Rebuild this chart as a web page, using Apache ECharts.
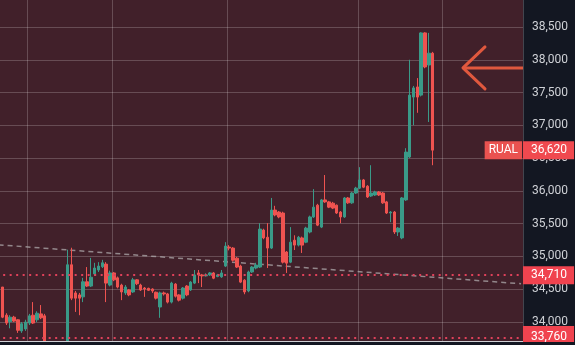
<!DOCTYPE html>
<html><head><meta charset="utf-8">
<script src="https://cdn.jsdelivr.net/npm/echarts@6/dist/echarts.min.js"></script>
<style>html,body{margin:0;padding:0;background:#131722;overflow:hidden}#c{width:575px;height:345px}</style>
</head><body><div id="c"></div>
<script>
// ---- data ----
const categoryCount = 137;
const categories = Array.from({length: categoryCount}, (_, i) => 'd' + i);
const openValues = [34990,34530,34100,34000,34070,34030,33860,33890,33980,34100,34030,34120,34090,null,null,null,null,null,
33700,34870,34440,34410,34380,34610,34545,34730,34790,34840,34880,34560,34745,34670,34560,34440,34485,34455,34640,34560,
34515,34510,34500,34450,34225,34440,34425,34300,34575,34410,34360,34545,34485,34590,34745,34715,34700,34715,34745,34690,
34685,34850,35140,35125,34970,34850,34635,34470,34760,34820,34835,35400,35290,35125,35705,35675,35660,35065,34910,35245,
35170,35280,35215,35370,35600,35780,35445,35860,35830,35810,35780,35675,35600,35890,35815,35965,36040,36165,36070,35920,
35935,35980,35965,35830,35660,35675,35370,35280,35860,36515,37430,37585,37460,38410,37920,38100];
const closeValues = [34530,34070,33980,34070,34010,33870,33970,33995,34090,33980,34130,34060,33700,null,null,null,null,null,
34870,34360,34360,34360,34610,34545,34680,34820,34850,34900,34590,34745,34640,34530,34455,34530,34410,34640,34580,34485,
34500,34480,34470,34360,34440,34425,34300,34590,34390,34330,34515,34410,34605,34715,34715,34700,34715,34745,34665,34715,
34745,35155,35125,34940,34835,34605,34455,34760,34835,34865,35415,35280,35125,35705,35630,35600,34910,34895,35215,35170,
35290,35170,35430,35600,35750,35475,35860,35830,35750,35735,35660,35600,35890,35815,35965,36040,36165,36055,35905,35965,
35980,35935,35815,35660,35675,35370,35430,35890,36590,37460,37570,37430,38410,37890,38100,36620];
const lowValues = [34515,34055,33950,33900,33995,33830,33830,33860,33950,33965,33995,34040,33675,null,null,null,null,null,
33680,34330,34150,34100,34300,34530,34530,34700,34760,34820,34300,34540,34620,34510,34330,34410,34390,34440,34560,34470,
34380,34470,34440,34340,34060,34400,34280,34280,34370,34310,34340,34390,34470,34575,34590,34530,34690,34700,34650,34680,
34670,34835,35090,34920,34820,34590,34420,34450,34745,34800,34820,35260,34820,35110,35610,35580,34890,34745,34895,35095,
35150,35050,35200,35350,35585,35460,35430,35815,35735,35720,35645,35505,35585,35800,35800,35950,36025,36040,35890,35905,
35920,35920,35800,35645,35520,35340,35310,35260,35845,36500,37000,37190,37440,37870,37050,36390];
const highValues = [35020,34530,34130,34100,34090,34040,33995,34030,34120,34300,34160,34255,34120,null,null,null,null,null,
35100,35130,34470,34440,34670,34835,34975,34900,34910,34945,34910,34780,34760,34690,34580,34560,34500,34670,34650,34580,
34530,34520,34510,34460,34460,34460,34440,34610,34590,34420,34530,34560,34620,34790,34790,34730,34740,34760,34760,34730,
34790,35215,35170,35140,34990,34870,34650,34780,34850,34900,35505,35420,35505,35890,35770,35690,35680,35080,35445,35320,
35310,35300,35450,35620,36025,35800,35875,36240,35845,35830,35790,35690,35905,35905,35980,36060,36360,36180,36085,36390,
36000,35995,35980,35845,35690,35690,35445,35905,36650,38000,37600,37720,38420,38420,38410,38120];
const tickerName = 'RUAL';
const lastPrice = 36620;
const levelLines = [34710, 33760];
const trendStart = 35175, trendEnd = 34580;
const arrowPrice = 37875;
const monthStartIndices = [8, 30, 60, 94, 116];
const yMin = 33500, yMax = 39000, yStep = 500;

// ---- styles ----
const UP = '#3a9a88', DOWN = '#ef5350';
const BG = '#41202a', PANEL = '#131722';
const FONT = 'Roboto, "Noto Sans", sans-serif';
const fmt = v => String(v).replace(/\B(?=(\d{3})+(?!\d))/g, ',');

const candleData = openValues.map((o, i) => o == null ? ['-', '-', '-', '-'] : [o, closeValues[i], lowValues[i], highValues[i]]);
const trendData = categories.map((_, i) => i === 0 ? trendStart : (i === categoryCount - 1 ? trendEnd : null));

const boxLabel = (txt, bg, pad) => ({
  show: true, position: 'end', distance: 0, formatter: txt,
  color: '#ffffff', fontFamily: FONT, fontSize: 12, lineHeight: 13,
  backgroundColor: bg, padding: pad || [3, 7, 2, 8], opacity: 1
});

const chart = echarts.init(document.getElementById('c'), null, {renderer: 'canvas'});
chart.setOption({
  animation: false,
  backgroundColor: PANEL,
  grid: {left: -3.33, right: 52, top: -5.75, bottom: -9.5, show: true, backgroundColor: BG, borderWidth: 0,
         containLabel: false, outerBoundsMode: 'none'},
  xAxis: {
    type: 'category', data: categories, boundaryGap: true,
    axisLine: {show: false}, axisTick: {show: false}, axisLabel: {show: false},
    splitLine: {show: true, interval: (idx) => monthStartIndices.includes(idx),
      lineStyle: {color: 'rgba(255,255,255,0.2)', width: 1}}
  },
  yAxis: {
    type: 'value', position: 'right', min: yMin, max: yMax, interval: yStep,
    axisLine: {show: false}, axisTick: {show: false},
    axisLabel: {color: '#cfd1d6', fontFamily: FONT, fontSize: 12, margin: 9, formatter: fmt},
    splitLine: {show: true, lineStyle: {color: 'rgba(255,255,255,0.2)', width: 1}}
  },
  series: [
    {
      type: 'line', data: trendData, connectNulls: true, symbol: 'none', silent: true, z: 1,
      lineStyle: {color: 'rgba(175,170,172,0.75)', width: 1.5, type: [5, 4]}
    },
    {
      type: 'candlestick', data: candleData, barWidth: 3, z: 3,
      itemStyle: {color: UP, color0: DOWN, borderColor: UP, borderColor0: DOWN, borderWidth: 1},
      markLine: {
        silent: true, symbol: 'none', animation: false,
        data: [
          {yAxis: levelLines[0], lineStyle: {color: '#e0415a', width: 2, type: [2, 4.5]}, label: boxLabel(fmt(levelLines[0]), '#f0434f')},
          {yAxis: levelLines[1], lineStyle: {color: '#e0415a', width: 2, type: [2, 4.5]}, label: boxLabel(fmt(levelLines[1]), '#f0434f', [0, 7, 10, 8])},
          {yAxis: lastPrice, lineStyle: {color: 'rgba(0,0,0,0)', width: 1}, label: boxLabel(fmt(lastPrice), '#f0494f')},
          {yAxis: lastPrice, lineStyle: {color: 'rgba(0,0,0,0)', width: 1}, label: Object.assign(boxLabel(tickerName, '#ea5250'), {position: 'insideEnd', distance: [1, 0], padding: [3, 4, 2, 4]})}
        ]
      }
    }
  ]
});

// annotation arrow and bottom time-axis strip
const ay = chart.convertToPixel({yAxisIndex: 0}, arrowPrice);
const gridRight = 575 - 52;
chart.setOption({
  graphic: [
    {type: 'polyline', silent: true, z: 10, shape: {points: [[gridRight - 38, ay - 21], [gridRight - 60, ay], [gridRight - 38, ay + 21]]},
      style: {stroke: '#e0583e', lineWidth: 3, fill: null, lineCap: 'round', lineJoin: 'round'}},
    {type: 'line', silent: true, z: 10, shape: {x1: gridRight - 60, y1: ay, x2: gridRight, y2: ay},
      style: {stroke: '#e0583e', lineWidth: 3}},
    {type: 'rect', silent: true, z: 20, shape: {x: 0, y: 342, width: 575, height: 3}, style: {fill: PANEL}},
    {type: 'line', silent: true, z: 21, shape: {x1: 0, y1: 341.5, x2: gridRight, y2: 341.5}, style: {stroke: '#cfcfd4', lineWidth: 1.2}}
  ]
});
</script></body></html>
